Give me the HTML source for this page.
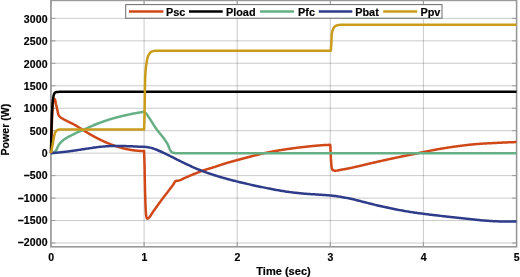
<!DOCTYPE html>
<html><head><meta charset="utf-8"><style>
html,body{margin:0;padding:0;background:#fff;}
body{width:520px;height:277px;overflow:hidden;}
svg{display:block;will-change:transform;}
text{font-family:"Liberation Sans",sans-serif;font-weight:bold;font-size:10.6px;fill:#000;stroke:#000;stroke-width:0.18px;}
</style></head><body>
<svg width="520" height="277" viewBox="0 0 520 277">
<rect x="0" y="0" width="520" height="277" fill="#fff"/>
<g stroke="#262626" stroke-opacity="0.24" stroke-width="1" fill="none">
<line x1="51.00" y1="0.40" x2="51.00" y2="246.80"/>
<line x1="144.10" y1="0.40" x2="144.10" y2="246.80"/>
<line x1="237.20" y1="0.40" x2="237.20" y2="246.80"/>
<line x1="330.30" y1="0.40" x2="330.30" y2="246.80"/>
<line x1="423.40" y1="0.40" x2="423.40" y2="246.80"/>
<line x1="516.50" y1="0.40" x2="516.50" y2="246.80"/>
<line x1="50.90" y1="18.36" x2="516.60" y2="18.36"/>
<line x1="50.90" y1="40.83" x2="516.60" y2="40.83"/>
<line x1="50.90" y1="63.29" x2="516.60" y2="63.29"/>
<line x1="50.90" y1="85.76" x2="516.60" y2="85.76"/>
<line x1="50.90" y1="108.22" x2="516.60" y2="108.22"/>
<line x1="50.90" y1="130.69" x2="516.60" y2="130.69"/>
<line x1="50.90" y1="153.15" x2="516.60" y2="153.15"/>
<line x1="50.90" y1="175.62" x2="516.60" y2="175.62"/>
<line x1="50.90" y1="198.08" x2="516.60" y2="198.08"/>
<line x1="50.90" y1="220.55" x2="516.60" y2="220.55"/>
<line x1="50.90" y1="243.01" x2="516.60" y2="243.01"/>
</g>
<g stroke="#999999" stroke-width="1" fill="none">
<line x1="51.00" y1="246.80" x2="51.00" y2="242.30"/>
<line x1="51.00" y1="0.40" x2="51.00" y2="4.90"/>
<line x1="144.10" y1="246.80" x2="144.10" y2="242.30"/>
<line x1="144.10" y1="0.40" x2="144.10" y2="4.90"/>
<line x1="237.20" y1="246.80" x2="237.20" y2="242.30"/>
<line x1="237.20" y1="0.40" x2="237.20" y2="4.90"/>
<line x1="330.30" y1="246.80" x2="330.30" y2="242.30"/>
<line x1="330.30" y1="0.40" x2="330.30" y2="4.90"/>
<line x1="423.40" y1="246.80" x2="423.40" y2="242.30"/>
<line x1="423.40" y1="0.40" x2="423.40" y2="4.90"/>
<line x1="516.50" y1="246.80" x2="516.50" y2="242.30"/>
<line x1="516.50" y1="0.40" x2="516.50" y2="4.90"/>
<line x1="50.90" y1="18.36" x2="55.40" y2="18.36"/>
<line x1="516.60" y1="18.36" x2="512.10" y2="18.36"/>
<line x1="50.90" y1="40.83" x2="55.40" y2="40.83"/>
<line x1="516.60" y1="40.83" x2="512.10" y2="40.83"/>
<line x1="50.90" y1="63.29" x2="55.40" y2="63.29"/>
<line x1="516.60" y1="63.29" x2="512.10" y2="63.29"/>
<line x1="50.90" y1="85.76" x2="55.40" y2="85.76"/>
<line x1="516.60" y1="85.76" x2="512.10" y2="85.76"/>
<line x1="50.90" y1="108.22" x2="55.40" y2="108.22"/>
<line x1="516.60" y1="108.22" x2="512.10" y2="108.22"/>
<line x1="50.90" y1="130.69" x2="55.40" y2="130.69"/>
<line x1="516.60" y1="130.69" x2="512.10" y2="130.69"/>
<line x1="50.90" y1="153.15" x2="55.40" y2="153.15"/>
<line x1="516.60" y1="153.15" x2="512.10" y2="153.15"/>
<line x1="50.90" y1="175.62" x2="55.40" y2="175.62"/>
<line x1="516.60" y1="175.62" x2="512.10" y2="175.62"/>
<line x1="50.90" y1="198.08" x2="55.40" y2="198.08"/>
<line x1="516.60" y1="198.08" x2="512.10" y2="198.08"/>
<line x1="50.90" y1="220.55" x2="55.40" y2="220.55"/>
<line x1="516.60" y1="220.55" x2="512.10" y2="220.55"/>
<line x1="50.90" y1="243.01" x2="55.40" y2="243.01"/>
<line x1="516.60" y1="243.01" x2="512.10" y2="243.01"/>
</g>
<rect x="50.9" y="0.4" width="465.70000000000005" height="246.4" fill="none" stroke="#999999" stroke-width="1.6"/>
<g fill="none" stroke-width="2.5" stroke-linejoin="round" stroke-linecap="butt">
<path d="M51.00,153.15 L51.37,139.07 L51.75,127.04 L52.12,116.49 L52.49,109.60 L52.87,104.31 L53.24,100.97 L53.61,99.69 L53.99,98.89 L54.36,98.72 L54.73,99.15 L55.10,99.93 L55.48,101.30 L55.85,103.40 L56.22,105.12 L56.60,106.71 L56.97,108.29 L57.34,109.92 L57.72,111.85 L58.09,113.75 L58.46,114.73 L58.84,115.44 L59.21,116.00 L59.58,116.46 L59.96,116.85 L60.33,117.19 L60.70,117.49 L61.07,117.76 L61.45,118.01 L61.82,118.23 L62.19,118.45 L62.57,118.66 L62.94,118.88 L63.31,119.10 L63.69,119.31 L64.06,119.52 L64.43,119.72 L64.81,119.91 L65.18,120.10 L65.55,120.29 L65.93,120.48 L66.30,120.67 L66.67,120.86 L67.05,121.05 L67.42,121.24 L67.79,121.43 L68.16,121.62 L68.54,121.80 L68.91,121.98 L69.28,122.16 L69.66,122.34 L70.03,122.52 L70.40,122.70 L70.78,122.88 L71.15,123.06 L71.52,123.24 L71.90,123.43 L72.27,123.61 L72.64,123.80 L73.02,123.98 L73.39,124.17 L73.76,124.37 L74.14,124.56 L74.51,124.77 L74.88,124.97 L75.25,125.18 L75.63,125.39 L76.00,125.61 L76.37,125.83 L76.75,126.06 L77.12,126.29 L77.49,126.52 L77.87,126.75 L78.24,126.99 L78.61,127.22 L78.99,127.46 L79.36,127.70 L79.73,127.94 L80.11,128.18 L80.48,128.42 L80.85,128.66 L81.22,128.90 L81.60,129.13 L81.97,129.37 L82.34,129.60 L82.72,129.82 L83.09,130.05 L83.46,130.28 L83.84,130.50 L84.21,130.73 L84.58,130.96 L84.96,131.19 L85.33,131.41 L85.70,131.64 L86.08,131.87 L86.45,132.10 L86.82,132.32 L87.20,132.55 L87.57,132.78 L87.94,133.00 L88.31,133.23 L88.69,133.45 L89.06,133.68 L89.43,133.90 L89.81,134.12 L90.18,134.34 L90.55,134.56 L90.93,134.78 L91.30,134.99 L91.67,135.21 L92.05,135.42 L92.42,135.63 L92.79,135.84 L93.17,136.05 L93.54,136.26 L93.91,136.46 L94.29,136.66 L94.66,136.86 L95.03,137.06 L95.40,137.26 L95.78,137.45 L96.15,137.65 L96.52,137.84 L96.90,138.04 L97.27,138.23 L97.64,138.42 L98.02,138.61 L98.39,138.80 L98.76,138.99 L99.14,139.17 L99.51,139.36 L99.88,139.54 L100.26,139.73 L100.63,139.91 L101.00,140.09 L101.37,140.27 L101.75,140.45 L102.12,140.63 L102.49,140.80 L102.87,140.98 L103.24,141.15 L103.61,141.32 L103.99,141.49 L104.36,141.66 L104.73,141.83 L105.11,141.99 L105.48,142.16 L105.85,142.32 L106.23,142.48 L106.60,142.64 L106.97,142.80 L107.35,142.95 L107.72,143.11 L108.09,143.26 L108.46,143.41 L108.84,143.56 L109.21,143.71 L109.58,143.86 L109.96,144.01 L110.33,144.15 L110.70,144.30 L111.08,144.44 L111.45,144.58 L111.82,144.72 L112.20,144.86 L112.57,144.99 L112.94,145.12 L113.32,145.26 L113.69,145.39 L114.06,145.51 L114.44,145.64 L114.81,145.76 L115.18,145.88 L115.55,146.01 L115.93,146.13 L116.30,146.25 L116.67,146.37 L117.05,146.50 L117.42,146.62 L117.79,146.74 L118.17,146.85 L118.54,146.97 L118.91,147.09 L119.29,147.20 L119.66,147.32 L120.03,147.43 L120.41,147.54 L120.78,147.65 L121.15,147.76 L121.52,147.87 L121.90,147.98 L122.27,148.08 L122.64,148.18 L123.02,148.28 L123.39,148.38 L123.76,148.48 L124.14,148.57 L124.51,148.66 L124.88,148.75 L125.26,148.84 L125.63,148.92 L126.00,149.00 L126.38,149.08 L126.75,149.16 L127.12,149.23 L127.50,149.31 L127.87,149.38 L128.24,149.45 L128.61,149.52 L128.99,149.59 L129.36,149.66 L129.73,149.72 L130.11,149.79 L130.48,149.85 L130.85,149.91 L131.23,149.97 L131.60,150.03 L131.97,150.09 L132.35,150.14 L132.72,150.20 L133.09,150.25 L133.47,150.30 L133.84,150.34 L134.21,150.39 L134.59,150.43 L134.96,150.47 L135.33,150.51 L135.70,150.55 L136.08,150.59 L136.45,150.63 L136.82,150.67 L137.20,150.71 L137.57,150.74 L137.94,150.78 L138.32,150.81 L138.69,150.84 L139.06,150.87 L139.44,150.90 L139.81,150.93 L140.18,150.96 L140.56,150.99 L140.93,151.01 L141.30,151.03 L141.67,151.05 L142.05,151.07 L142.42,151.08 L142.79,151.10 L143.17,151.11 L143.54,151.12 L143.91,151.13 L144.10,151.04 L144.57,165.99 L145.03,190.90 L145.50,205.41 L145.96,214.07 L146.43,216.82 L146.90,218.24 L147.36,218.75 L147.83,218.60 L148.30,218.25 L148.76,217.84 L149.23,217.40 L149.69,216.86 L150.16,216.23 L150.63,215.55 L151.09,214.83 L151.56,214.08 L152.03,213.33 L152.49,212.59 L152.96,211.90 L153.42,211.24 L153.89,210.58 L154.36,209.93 L154.82,209.27 L155.29,208.62 L155.75,207.97 L156.22,207.31 L156.69,206.66 L157.15,206.01 L157.62,205.36 L158.09,204.71 L158.55,204.07 L159.02,203.42 L159.48,202.78 L159.95,202.14 L160.42,201.51 L160.88,200.88 L161.35,200.25 L161.82,199.62 L162.28,199.00 L162.75,198.39 L163.21,197.77 L163.68,197.17 L164.15,196.56 L164.61,195.96 L165.08,195.35 L165.55,194.75 L166.01,194.15 L166.48,193.54 L166.94,192.94 L167.41,192.33 L167.88,191.73 L168.34,191.11 L168.81,190.50 L169.27,189.88 L169.74,189.25 L170.21,188.63 L170.67,188.01 L171.14,187.39 L171.61,186.77 L172.07,186.14 L172.54,185.50 L173.00,184.85 L173.47,184.18 L173.94,183.49 L174.40,182.63 L174.87,181.79 L175.34,181.26 L175.80,181.05 L176.27,180.91 L176.73,180.81 L177.20,180.74 L177.67,180.69 L178.13,180.65 L178.60,180.58 L179.06,180.47 L179.53,180.33 L180.00,180.17 L180.46,179.98 L180.93,179.77 L181.40,179.55 L181.86,179.32 L182.33,179.08 L182.79,178.85 L183.26,178.62 L183.73,178.40 L184.19,178.20 L184.66,178.00 L185.13,177.79 L185.59,177.59 L186.06,177.39 L186.52,177.18 L186.99,176.97 L187.46,176.77 L187.92,176.56 L188.39,176.36 L188.86,176.16 L189.32,175.95 L189.79,175.75 L190.25,175.56 L190.72,175.36 L191.19,175.17 L191.65,174.98 L192.12,174.79 L192.58,174.60 L193.05,174.41 L193.52,174.22 L193.98,174.03 L194.45,173.85 L194.92,173.66 L195.38,173.48 L195.85,173.29 L196.31,173.11 L196.78,172.93 L197.25,172.75 L197.71,172.57 L198.18,172.38 L198.65,172.20 L199.11,172.02 L199.58,171.84 L200.04,171.66 L200.51,171.48 L200.98,171.30 L201.44,171.12 L201.91,170.95 L202.38,170.78 L202.84,170.62 L203.31,170.46 L203.77,170.30 L204.24,170.14 L204.71,169.99 L205.17,169.84 L205.64,169.69 L206.10,169.55 L206.57,169.40 L207.04,169.26 L207.50,169.12 L207.97,168.98 L208.44,168.83 L208.90,168.69 L209.37,168.55 L209.83,168.41 L210.30,168.27 L210.77,168.13 L211.23,167.99 L211.70,167.85 L212.17,167.71 L212.63,167.56 L213.10,167.42 L213.56,167.27 L214.03,167.12 L214.50,166.97 L214.96,166.82 L215.43,166.67 L215.89,166.51 L216.36,166.36 L216.83,166.20 L217.29,166.05 L217.76,165.89 L218.23,165.74 L218.69,165.58 L219.16,165.42 L219.62,165.27 L220.09,165.11 L220.56,164.96 L221.02,164.80 L221.49,164.65 L221.96,164.49 L222.42,164.34 L222.89,164.19 L223.35,164.04 L223.82,163.89 L224.29,163.74 L224.75,163.59 L225.22,163.45 L225.68,163.30 L226.15,163.16 L226.62,163.02 L227.08,162.88 L227.55,162.74 L228.02,162.61 L228.48,162.47 L228.95,162.34 L229.41,162.21 L229.88,162.08 L230.35,161.95 L230.81,161.82 L231.28,161.69 L231.75,161.57 L232.21,161.44 L232.68,161.32 L233.14,161.19 L233.61,161.07 L234.08,160.94 L234.54,160.82 L235.01,160.69 L235.48,160.57 L235.94,160.44 L236.41,160.32 L236.87,160.19 L237.34,160.07 L237.81,159.94 L238.27,159.81 L238.74,159.69 L239.20,159.56 L239.67,159.44 L240.14,159.31 L240.60,159.19 L241.07,159.06 L241.54,158.93 L242.00,158.81 L242.47,158.68 L242.93,158.56 L243.40,158.44 L243.87,158.31 L244.33,158.19 L244.80,158.06 L245.27,157.94 L245.73,157.82 L246.20,157.69 L246.66,157.57 L247.13,157.45 L247.60,157.32 L248.06,157.20 L248.53,157.08 L249.00,156.96 L249.46,156.83 L249.93,156.71 L250.39,156.59 L250.86,156.47 L251.33,156.35 L251.79,156.22 L252.26,156.10 L252.72,155.98 L253.19,155.86 L253.66,155.74 L254.12,155.62 L254.59,155.51 L255.06,155.39 L255.52,155.27 L255.99,155.16 L256.45,155.04 L256.92,154.93 L257.39,154.81 L257.85,154.70 L258.32,154.58 L258.79,154.47 L259.25,154.35 L259.72,154.24 L260.18,154.13 L260.65,154.01 L261.12,153.90 L261.58,153.79 L262.05,153.68 L262.51,153.57 L262.98,153.46 L263.45,153.36 L263.91,153.25 L264.38,153.15 L264.85,153.05 L265.31,152.95 L265.78,152.85 L266.24,152.75 L266.71,152.66 L267.18,152.56 L267.64,152.47 L268.11,152.38 L268.58,152.28 L269.04,152.19 L269.51,152.10 L269.97,152.01 L270.44,151.92 L270.91,151.83 L271.37,151.74 L271.84,151.65 L272.31,151.57 L272.77,151.48 L273.24,151.40 L273.70,151.31 L274.17,151.23 L274.64,151.14 L275.10,151.06 L275.57,150.98 L276.03,150.90 L276.50,150.81 L276.97,150.73 L277.43,150.65 L277.90,150.58 L278.37,150.50 L278.83,150.42 L279.30,150.34 L279.76,150.27 L280.23,150.19 L280.70,150.11 L281.16,150.04 L281.63,149.97 L282.10,149.89 L282.56,149.82 L283.03,149.75 L283.49,149.68 L283.96,149.60 L284.43,149.53 L284.89,149.46 L285.36,149.39 L285.82,149.32 L286.29,149.25 L286.76,149.18 L287.22,149.11 L287.69,149.04 L288.16,148.97 L288.62,148.91 L289.09,148.84 L289.55,148.77 L290.02,148.70 L290.49,148.64 L290.95,148.57 L291.42,148.51 L291.89,148.44 L292.35,148.38 L292.82,148.31 L293.28,148.25 L293.75,148.18 L294.22,148.12 L294.68,148.06 L295.15,148.00 L295.62,147.94 L296.08,147.87 L296.55,147.81 L297.01,147.76 L297.48,147.70 L297.95,147.64 L298.41,147.58 L298.88,147.52 L299.34,147.47 L299.81,147.41 L300.28,147.36 L300.74,147.30 L301.21,147.25 L301.68,147.20 L302.14,147.14 L302.61,147.09 L303.07,147.04 L303.54,146.99 L304.01,146.94 L304.47,146.90 L304.94,146.85 L305.41,146.80 L305.87,146.75 L306.34,146.70 L306.80,146.65 L307.27,146.60 L307.74,146.55 L308.20,146.50 L308.67,146.45 L309.13,146.40 L309.60,146.35 L310.07,146.31 L310.53,146.26 L311.00,146.21 L311.47,146.16 L311.93,146.11 L312.40,146.07 L312.86,146.02 L313.33,145.97 L313.80,145.93 L314.26,145.88 L314.73,145.84 L315.20,145.79 L315.66,145.75 L316.13,145.70 L316.59,145.66 L317.06,145.62 L317.53,145.58 L317.99,145.54 L318.46,145.50 L318.92,145.46 L319.39,145.42 L319.86,145.38 L320.32,145.34 L320.79,145.31 L321.26,145.27 L321.72,145.24 L322.19,145.21 L322.65,145.17 L323.12,145.14 L323.59,145.11 L324.05,145.09 L324.52,145.06 L324.99,145.03 L325.45,145.01 L325.92,144.98 L326.38,144.96 L326.85,144.94 L327.32,144.92 L327.78,144.90 L328.25,144.89 L328.72,144.87 L329.18,144.86 L329.65,144.85 L330.11,144.84 L330.30,144.88 L330.92,158.63 L331.55,167.25 L332.17,169.37 L332.79,170.08 L333.41,170.36 L334.04,170.56 L334.66,170.67 L335.28,170.72 L335.90,170.70 L336.53,170.63 L337.15,170.53 L337.77,170.41 L338.40,170.28 L339.02,170.15 L339.64,170.04 L340.26,169.93 L340.89,169.82 L341.51,169.72 L342.13,169.60 L342.75,169.49 L343.38,169.38 L344.00,169.26 L344.62,169.15 L345.25,169.03 L345.87,168.91 L346.49,168.79 L347.11,168.67 L347.74,168.55 L348.36,168.43 L348.98,168.30 L349.61,168.18 L350.23,168.05 L350.85,167.92 L351.47,167.80 L352.10,167.66 L352.72,167.53 L353.34,167.40 L353.96,167.26 L354.59,167.12 L355.21,166.98 L355.83,166.84 L356.46,166.70 L357.08,166.56 L357.70,166.41 L358.32,166.27 L358.95,166.12 L359.57,165.97 L360.19,165.83 L360.81,165.68 L361.44,165.53 L362.06,165.38 L362.68,165.23 L363.31,165.08 L363.93,164.93 L364.55,164.78 L365.17,164.63 L365.80,164.48 L366.42,164.33 L367.04,164.18 L367.66,164.03 L368.29,163.88 L368.91,163.73 L369.53,163.58 L370.16,163.44 L370.78,163.29 L371.40,163.15 L372.02,163.00 L372.65,162.86 L373.27,162.72 L373.89,162.58 L374.51,162.44 L375.14,162.30 L375.76,162.16 L376.38,162.02 L377.01,161.88 L377.63,161.73 L378.25,161.59 L378.87,161.45 L379.50,161.31 L380.12,161.17 L380.74,161.03 L381.36,160.89 L381.99,160.76 L382.61,160.62 L383.23,160.48 L383.86,160.34 L384.48,160.20 L385.10,160.06 L385.72,159.92 L386.35,159.79 L386.97,159.65 L387.59,159.51 L388.22,159.38 L388.84,159.24 L389.46,159.10 L390.08,158.97 L390.71,158.83 L391.33,158.70 L391.95,158.56 L392.57,158.43 L393.20,158.30 L393.82,158.16 L394.44,158.03 L395.07,157.90 L395.69,157.76 L396.31,157.63 L396.93,157.50 L397.56,157.37 L398.18,157.24 L398.80,157.11 L399.42,156.98 L400.05,156.85 L400.67,156.72 L401.29,156.59 L401.92,156.46 L402.54,156.33 L403.16,156.20 L403.78,156.08 L404.41,155.95 L405.03,155.82 L405.65,155.69 L406.27,155.56 L406.90,155.44 L407.52,155.31 L408.14,155.18 L408.77,155.05 L409.39,154.93 L410.01,154.80 L410.63,154.67 L411.26,154.54 L411.88,154.42 L412.50,154.29 L413.12,154.16 L413.75,154.03 L414.37,153.91 L414.99,153.78 L415.62,153.65 L416.24,153.52 L416.86,153.40 L417.48,153.27 L418.11,153.14 L418.73,153.01 L419.35,152.88 L419.97,152.76 L420.60,152.63 L421.22,152.50 L421.84,152.38 L422.47,152.25 L423.09,152.13 L423.71,152.00 L424.33,151.88 L424.96,151.76 L425.58,151.63 L426.20,151.51 L426.83,151.38 L427.45,151.26 L428.07,151.13 L428.69,151.01 L429.32,150.88 L429.94,150.76 L430.56,150.64 L431.18,150.51 L431.81,150.39 L432.43,150.27 L433.05,150.15 L433.68,150.03 L434.30,149.91 L434.92,149.79 L435.54,149.67 L436.17,149.56 L436.79,149.45 L437.41,149.33 L438.03,149.22 L438.66,149.11 L439.28,149.01 L439.90,148.90 L440.53,148.80 L441.15,148.69 L441.77,148.59 L442.39,148.48 L443.02,148.38 L443.64,148.28 L444.26,148.18 L444.88,148.08 L445.51,147.98 L446.13,147.88 L446.75,147.78 L447.38,147.68 L448.00,147.59 L448.62,147.49 L449.24,147.39 L449.87,147.30 L450.49,147.21 L451.11,147.12 L451.73,147.02 L452.36,146.93 L452.98,146.84 L453.60,146.76 L454.23,146.67 L454.85,146.58 L455.47,146.50 L456.09,146.41 L456.72,146.33 L457.34,146.25 L457.96,146.16 L458.58,146.08 L459.21,146.01 L459.83,145.93 L460.45,145.85 L461.08,145.77 L461.70,145.69 L462.32,145.61 L462.94,145.53 L463.57,145.46 L464.19,145.38 L464.81,145.30 L465.44,145.23 L466.06,145.15 L466.68,145.08 L467.30,145.01 L467.93,144.94 L468.55,144.86 L469.17,144.80 L469.79,144.73 L470.42,144.66 L471.04,144.59 L471.66,144.53 L472.29,144.46 L472.91,144.40 L473.53,144.34 L474.15,144.28 L474.78,144.23 L475.40,144.17 L476.02,144.12 L476.64,144.07 L477.27,144.02 L477.89,143.97 L478.51,143.92 L479.14,143.88 L479.76,143.83 L480.38,143.79 L481.00,143.74 L481.63,143.70 L482.25,143.66 L482.87,143.62 L483.49,143.58 L484.12,143.54 L484.74,143.51 L485.36,143.47 L485.99,143.43 L486.61,143.40 L487.23,143.36 L487.85,143.33 L488.48,143.29 L489.10,143.26 L489.72,143.22 L490.34,143.19 L490.97,143.16 L491.59,143.13 L492.21,143.09 L492.84,143.06 L493.46,143.03 L494.08,143.00 L494.70,142.97 L495.33,142.94 L495.95,142.91 L496.57,142.88 L497.19,142.85 L497.82,142.82 L498.44,142.79 L499.06,142.76 L499.69,142.73 L500.31,142.70 L500.93,142.67 L501.55,142.64 L502.18,142.62 L502.80,142.59 L503.42,142.56 L504.05,142.53 L504.67,142.51 L505.29,142.48 L505.91,142.45 L506.54,142.43 L507.16,142.40 L507.78,142.37 L508.40,142.35 L509.03,142.32 L509.65,142.30 L510.27,142.28 L510.90,142.25 L511.52,142.23 L512.14,142.20 L512.76,142.18 L513.39,142.16 L514.01,142.14 L514.63,142.12 L515.25,142.09 L515.88,142.07 L516.50,142.05" stroke="#d04818"/>
<path d="M51.00,153.15 L51.13,145.38 L51.25,138.59 L51.38,132.67 L51.50,127.49 L51.63,122.98 L51.76,119.03 L51.88,115.59 L52.01,112.58 L52.14,109.95 L52.26,107.66 L52.39,105.66 L52.51,103.91 L52.64,102.38 L52.77,101.05 L52.89,99.88 L53.02,98.87 L53.15,97.98 L53.27,97.20 L53.40,96.53 L53.52,95.94 L53.65,95.42 L53.78,94.97 L53.90,94.58 L54.03,94.23 L54.16,93.93 L54.28,93.67 L54.41,93.44 L54.53,93.24 L54.66,93.07 L54.79,92.91 L54.91,92.78 L55.04,92.67 L55.17,92.56 L55.29,92.48 L55.42,92.40 L55.54,92.33 L55.67,92.27 L55.80,92.22 L55.92,92.18 L56.05,92.14 L56.18,92.10 L56.30,92.07 L56.43,92.05 L56.55,92.02 L56.68,92.00 L56.81,91.99 L56.93,91.97 L57.06,91.96 L57.19,91.95 L57.31,91.94 L57.44,91.93 L57.56,91.92 L57.69,91.91 L57.82,91.91 L57.94,91.90 L58.07,91.90 L58.20,91.89 L58.32,91.89 L58.45,91.89 L59.38,91.87 L83.44,91.87 L107.50,91.87 L131.56,91.87 L155.62,91.87 L179.67,91.87 L203.73,91.87 L227.79,91.87 L251.85,91.87 L275.91,91.87 L299.97,91.87 L324.03,91.87 L348.09,91.87 L372.15,91.87 L396.20,91.87 L420.26,91.87 L444.32,91.87 L468.38,91.87 L492.44,91.87 L516.50,91.87" stroke="#000000"/>
<path d="M51.00,153.15 L51.62,153.10 L52.25,152.95 L52.87,152.73 L53.50,152.47 L54.12,152.17 L54.75,151.72 L55.37,151.12 L56.00,150.40 L56.62,149.48 L57.25,148.04 L57.87,146.50 L58.50,145.36 L59.12,144.43 L59.75,143.60 L60.37,142.86 L61.00,142.20 L61.62,141.60 L62.25,141.03 L62.87,140.50 L63.50,140.00 L64.12,139.53 L64.75,139.09 L65.37,138.66 L66.00,138.25 L66.62,137.86 L67.25,137.48 L67.87,137.13 L68.50,136.79 L69.12,136.46 L69.74,136.14 L70.37,135.83 L70.99,135.53 L71.62,135.22 L72.24,134.92 L72.87,134.61 L73.49,134.29 L74.12,133.97 L74.74,133.65 L75.37,133.32 L75.99,133.00 L76.62,132.68 L77.24,132.37 L77.87,132.07 L78.49,131.78 L79.12,131.50 L79.74,131.24 L80.37,131.00 L80.99,130.76 L81.62,130.53 L82.24,130.31 L82.87,130.07 L83.49,129.83 L84.12,129.58 L84.74,129.31 L85.37,129.02 L85.99,128.72 L86.62,128.41 L87.24,128.09 L87.87,127.79 L88.49,127.49 L89.11,127.20 L89.74,126.92 L90.36,126.64 L90.99,126.36 L91.61,126.09 L92.24,125.82 L92.86,125.55 L93.49,125.28 L94.11,125.02 L94.74,124.76 L95.36,124.51 L95.99,124.26 L96.61,124.01 L97.24,123.76 L97.86,123.52 L98.49,123.28 L99.11,123.04 L99.74,122.81 L100.36,122.58 L100.99,122.35 L101.61,122.12 L102.24,121.90 L102.86,121.68 L103.49,121.46 L104.11,121.24 L104.74,121.03 L105.36,120.82 L105.99,120.61 L106.61,120.41 L107.23,120.21 L107.86,120.01 L108.48,119.81 L109.11,119.62 L109.73,119.42 L110.36,119.23 L110.98,119.04 L111.61,118.86 L112.23,118.67 L112.86,118.49 L113.48,118.31 L114.11,118.14 L114.73,117.96 L115.36,117.79 L115.98,117.62 L116.61,117.45 L117.23,117.28 L117.86,117.12 L118.48,116.96 L119.11,116.80 L119.73,116.64 L120.36,116.48 L120.98,116.33 L121.61,116.17 L122.23,116.02 L122.86,115.87 L123.48,115.73 L124.11,115.58 L124.73,115.44 L125.36,115.30 L125.98,115.16 L126.60,115.02 L127.23,114.88 L127.85,114.74 L128.48,114.61 L129.10,114.48 L129.73,114.35 L130.35,114.22 L130.98,114.09 L131.60,113.97 L132.23,113.84 L132.85,113.72 L133.48,113.60 L134.10,113.48 L134.73,113.36 L135.35,113.24 L135.98,113.13 L136.60,113.01 L137.23,112.90 L137.85,112.79 L138.48,112.68 L139.10,112.57 L139.73,112.46 L140.35,112.36 L140.98,112.25 L141.60,112.15 L142.23,112.05 L142.85,111.95 L143.48,111.85 L144.10,111.75 L144.70,112.11 L145.10,112.49 L145.50,112.90 L145.91,113.34 L146.31,113.82 L146.71,114.32 L147.11,114.83 L147.51,115.37 L147.91,115.93 L148.31,116.50 L148.71,117.09 L149.12,117.69 L149.52,118.30 L149.92,118.92 L150.32,119.55 L150.72,120.19 L151.12,120.83 L151.52,121.47 L151.92,122.12 L152.33,122.76 L152.73,123.41 L153.13,124.05 L153.53,124.68 L153.93,125.31 L154.33,125.94 L154.73,126.55 L155.13,127.15 L155.54,127.74 L155.94,128.31 L156.34,128.87 L156.74,129.42 L157.14,129.95 L157.54,130.48 L157.94,131.00 L158.34,131.51 L158.75,132.02 L159.15,132.52 L159.55,133.01 L159.95,133.51 L160.35,134.00 L160.75,134.50 L161.15,134.99 L161.55,135.49 L161.96,135.99 L162.36,136.50 L162.76,137.01 L163.16,137.53 L163.56,138.06 L163.96,138.60 L164.36,139.15 L164.76,139.72 L165.17,140.29 L165.57,140.88 L165.97,141.49 L166.37,142.11 L166.77,142.75 L167.17,143.42 L167.57,144.14 L167.97,144.91 L168.38,145.75 L168.78,146.74 L169.18,147.86 L169.58,148.92 L169.98,149.75 L170.38,150.49 L170.78,151.12 L171.18,151.59 L171.59,151.93 L171.99,152.22 L172.39,152.46 L172.79,152.64 L173.19,152.75 L173.59,152.84 L173.99,152.93 L174.39,153.00 L174.80,153.06 L175.20,153.11 L175.60,153.14 L176.00,153.15 L516.50,153.15" stroke="#66af85"/>
<path d="M51.00,153.15 L52.17,153.06 L53.33,152.97 L54.50,152.88 L55.67,152.78 L56.83,152.67 L58.00,152.56 L59.17,152.45 L60.33,152.34 L61.50,152.22 L62.67,152.10 L63.83,151.97 L65.00,151.83 L66.17,151.69 L67.33,151.55 L68.50,151.41 L69.67,151.26 L70.83,151.10 L72.00,150.94 L73.17,150.78 L74.33,150.60 L75.50,150.43 L76.67,150.25 L77.83,150.07 L79.00,149.88 L80.17,149.70 L81.33,149.52 L82.50,149.33 L83.67,149.15 L84.83,148.98 L86.00,148.80 L87.17,148.63 L88.33,148.46 L89.50,148.30 L90.67,148.13 L91.83,147.95 L93.00,147.78 L94.17,147.61 L95.33,147.44 L96.50,147.28 L97.67,147.12 L98.83,146.98 L100.00,146.85 L101.17,146.73 L102.33,146.62 L103.50,146.53 L104.67,146.43 L105.83,146.33 L107.00,146.24 L108.17,146.16 L109.33,146.09 L110.50,146.03 L111.67,145.99 L112.83,145.96 L114.00,145.96 L115.17,145.97 L116.33,145.97 L117.50,145.98 L118.67,145.99 L119.83,146.01 L121.00,146.02 L122.17,146.04 L123.33,146.06 L124.50,146.08 L125.67,146.10 L126.83,146.13 L128.00,146.16 L129.17,146.20 L130.33,146.25 L131.50,146.30 L132.67,146.35 L133.83,146.41 L135.00,146.47 L136.17,146.52 L137.33,146.58 L138.50,146.64 L139.67,146.69 L140.83,146.73 L142.00,146.77 L143.17,146.81 L144.33,146.86 L145.50,146.94 L146.67,147.06 L147.83,147.22 L149.00,147.41 L150.17,147.63 L151.33,147.90 L152.50,148.24 L153.67,148.63 L154.83,149.06 L156.00,149.52 L157.17,150.01 L158.33,150.50 L159.50,150.99 L160.67,151.48 L161.83,151.99 L163.00,152.53 L164.17,153.09 L165.33,153.67 L166.50,154.25 L167.67,154.84 L168.83,155.42 L170.00,156.00 L171.17,156.58 L172.33,157.16 L173.50,157.74 L174.67,158.33 L175.83,158.92 L177.00,159.51 L178.17,160.09 L179.33,160.67 L180.50,161.25 L181.67,161.82 L182.83,162.39 L184.00,162.96 L185.17,163.53 L186.33,164.09 L187.50,164.64 L188.67,165.19 L189.83,165.72 L191.00,166.25 L192.17,166.78 L193.33,167.30 L194.50,167.81 L195.67,168.32 L196.83,168.81 L198.00,169.30 L199.17,169.77 L200.33,170.23 L201.50,170.68 L202.67,171.12 L203.83,171.56 L205.00,171.99 L206.17,172.41 L207.33,172.83 L208.50,173.24 L209.67,173.64 L210.83,174.04 L212.00,174.43 L213.17,174.81 L214.33,175.19 L215.50,175.56 L216.67,175.92 L217.83,176.28 L219.00,176.63 L220.17,176.97 L221.33,177.31 L222.50,177.65 L223.67,177.98 L224.83,178.30 L226.00,178.62 L227.17,178.94 L228.33,179.26 L229.50,179.57 L230.67,179.88 L231.83,180.18 L233.00,180.48 L234.17,180.78 L235.33,181.07 L236.50,181.36 L237.67,181.65 L238.83,181.94 L240.00,182.22 L241.17,182.50 L242.33,182.77 L243.50,183.05 L244.67,183.32 L245.83,183.59 L247.00,183.86 L248.17,184.13 L249.33,184.39 L250.50,184.65 L251.67,184.91 L252.83,185.17 L254.00,185.42 L255.17,185.67 L256.33,185.92 L257.50,186.17 L258.67,186.42 L259.83,186.67 L261.00,186.91 L262.17,187.15 L263.33,187.40 L264.50,187.64 L265.67,187.88 L266.83,188.12 L268.00,188.36 L269.17,188.59 L270.33,188.83 L271.50,189.05 L272.67,189.27 L273.83,189.49 L275.00,189.70 L276.17,189.91 L277.33,190.11 L278.50,190.32 L279.67,190.52 L280.83,190.72 L282.00,190.91 L283.17,191.10 L284.33,191.29 L285.50,191.47 L286.67,191.64 L287.83,191.81 L289.00,191.97 L290.17,192.12 L291.33,192.27 L292.50,192.41 L293.67,192.55 L294.83,192.69 L296.00,192.82 L297.17,192.95 L298.33,193.07 L299.50,193.19 L300.67,193.31 L301.83,193.42 L303.00,193.53 L304.17,193.63 L305.33,193.73 L306.50,193.82 L307.67,193.90 L308.83,193.98 L310.00,194.06 L311.17,194.14 L312.33,194.21 L313.50,194.28 L314.67,194.35 L315.83,194.42 L317.00,194.50 L318.17,194.57 L319.33,194.65 L320.50,194.74 L321.67,194.82 L322.83,194.90 L324.00,194.98 L325.17,195.06 L326.33,195.15 L327.50,195.24 L328.67,195.33 L329.83,195.44 L331.00,195.55 L332.17,195.67 L333.33,195.81 L334.50,195.96 L335.67,196.11 L336.83,196.28 L338.00,196.45 L339.17,196.63 L340.33,196.83 L341.50,197.04 L342.67,197.24 L343.83,197.45 L345.00,197.65 L346.17,197.86 L347.33,198.08 L348.50,198.30 L349.67,198.53 L350.83,198.78 L352.00,199.04 L353.17,199.31 L354.33,199.58 L355.50,199.87 L356.67,200.17 L357.83,200.46 L359.00,200.76 L360.17,201.07 L361.33,201.37 L362.50,201.67 L363.67,201.97 L364.83,202.26 L366.00,202.55 L367.17,202.84 L368.33,203.13 L369.50,203.43 L370.67,203.72 L371.83,204.02 L373.00,204.31 L374.17,204.60 L375.33,204.89 L376.50,205.17 L377.67,205.45 L378.83,205.73 L380.00,206.00 L381.17,206.27 L382.33,206.53 L383.50,206.79 L384.67,207.05 L385.83,207.30 L387.00,207.56 L388.17,207.81 L389.33,208.05 L390.50,208.29 L391.67,208.53 L392.83,208.77 L394.00,209.00 L395.17,209.23 L396.33,209.46 L397.50,209.68 L398.67,209.91 L399.83,210.13 L401.00,210.35 L402.17,210.56 L403.33,210.77 L404.50,210.98 L405.67,211.18 L406.83,211.38 L408.00,211.58 L409.17,211.77 L410.33,211.95 L411.50,212.13 L412.67,212.31 L413.83,212.48 L415.00,212.65 L416.17,212.82 L417.33,212.98 L418.50,213.14 L419.67,213.30 L420.83,213.45 L422.00,213.61 L423.17,213.76 L424.33,213.91 L425.50,214.06 L426.67,214.21 L427.83,214.36 L429.00,214.50 L430.17,214.64 L431.33,214.78 L432.50,214.92 L433.67,215.06 L434.83,215.20 L436.00,215.33 L437.17,215.47 L438.33,215.61 L439.50,215.74 L440.67,215.88 L441.83,216.01 L443.00,216.15 L444.17,216.28 L445.33,216.42 L446.50,216.55 L447.67,216.68 L448.83,216.81 L450.00,216.94 L451.17,217.08 L452.33,217.21 L453.50,217.33 L454.67,217.46 L455.83,217.59 L457.00,217.72 L458.17,217.85 L459.33,217.97 L460.50,218.10 L461.67,218.22 L462.83,218.35 L464.00,218.47 L465.17,218.60 L466.33,218.72 L467.50,218.84 L468.67,218.96 L469.83,219.08 L471.00,219.20 L472.17,219.33 L473.33,219.46 L474.50,219.59 L475.67,219.71 L476.83,219.84 L478.00,219.97 L479.17,220.09 L480.33,220.20 L481.50,220.31 L482.67,220.42 L483.83,220.51 L485.00,220.60 L486.17,220.68 L487.33,220.76 L488.50,220.85 L489.67,220.93 L490.83,221.01 L492.00,221.08 L493.17,221.15 L494.33,221.21 L495.50,221.27 L496.67,221.32 L497.83,221.36 L499.00,221.38 L500.17,221.40 L501.33,221.41 L502.50,221.43 L503.67,221.44 L504.83,221.45 L506.00,221.46 L507.17,221.47 L508.33,221.47 L509.50,221.48 L510.67,221.49 L511.83,221.49 L513.00,221.49 L514.17,221.50 L515.33,221.50 L516.50,221.50" stroke="#2f3c8a"/>
<path d="M51.00,153.00 L51.28,151.58 L51.57,150.15 L51.85,148.74 L52.14,147.33 L52.42,145.87 L52.71,144.30 L52.99,142.67 L53.28,141.04 L53.56,139.35 L53.85,137.75 L54.13,136.33 L54.42,134.99 L54.70,133.89 L54.99,133.09 L55.27,132.42 L55.56,131.85 L55.84,131.40 L56.13,131.05 L56.41,130.75 L56.70,130.49 L56.98,130.27 L57.27,130.10 L57.55,129.98 L57.84,129.90 L58.12,129.82 L58.41,129.75 L58.70,129.70 L58.98,129.65 L59.27,129.62 L59.55,129.60 L59.84,129.58 L60.12,129.56 L60.41,129.54 L60.69,129.53 L60.98,129.52 L61.26,129.51 L61.55,129.50 L61.83,129.50 L62.11,129.50 L62.40,129.50 L62.69,129.50 L62.97,129.50 L63.25,129.50 L63.54,129.50 L63.82,129.50 L64.11,129.50 L64.39,129.50 L64.68,129.50 L64.97,129.50 L65.90,129.50 L74.59,129.50 L83.27,129.50 L91.96,129.50 L100.65,129.50 L109.34,129.50 L118.03,129.50 L126.72,129.50 L135.41,129.50 L144.10,129.52 L144.15,128.39 L144.33,122.46 L144.52,114.46 L144.71,104.28 L144.90,90.95 L145.09,80.21 L145.27,75.73 L145.46,72.59 L145.65,70.25 L145.84,68.29 L146.03,66.65 L146.21,65.24 L146.40,64.00 L146.59,62.82 L146.78,61.68 L146.97,60.58 L147.15,59.56 L147.34,58.64 L147.53,57.85 L147.72,57.21 L147.91,56.67 L148.09,56.17 L148.28,55.71 L148.47,55.29 L148.66,54.91 L148.85,54.56 L149.03,54.25 L149.22,53.96 L149.41,53.70 L149.60,53.45 L149.79,53.21 L149.97,52.98 L150.16,52.76 L150.35,52.55 L150.54,52.35 L150.73,52.17 L150.91,52.01 L151.10,51.87 L151.29,51.74 L151.48,51.64 L151.67,51.56 L151.85,51.49 L152.04,51.42 L152.23,51.35 L152.42,51.29 L152.61,51.23 L152.79,51.18 L152.98,51.12 L153.17,51.08 L153.36,51.03 L153.54,51.00 L153.73,50.96 L153.92,50.93 L154.11,50.91 L154.30,50.89 L154.48,50.88 L154.67,50.87 L154.86,50.86 L155.05,50.86 L155.24,50.85 L155.42,50.84 L155.61,50.84 L155.80,50.83 L155.99,50.83 L156.18,50.82 L156.36,50.82 L156.55,50.81 L156.74,50.81 L156.93,50.81 L157.12,50.80 L157.30,50.80 L157.49,50.80 L157.68,50.80 L157.87,50.80 L158.06,50.80 L158.24,50.80 L158.43,50.80 L158.62,50.80 L158.81,50.80 L159.00,50.80 L159.93,50.80 L178.91,50.80 L197.89,50.80 L216.87,50.80 L235.86,50.80 L254.84,50.80 L273.82,50.80 L292.80,50.80 L311.78,50.80 L330.77,50.80 L330.81,50.43 L330.99,48.54 L331.18,46.02 L331.36,42.79 L331.54,38.63 L331.72,34.86 L331.90,33.26 L332.09,32.18 L332.27,31.39 L332.45,30.74 L332.63,30.18 L332.81,29.71 L333.00,29.30 L333.18,28.92 L333.36,28.54 L333.54,28.19 L333.73,27.85 L333.91,27.53 L334.09,27.26 L334.27,27.02 L334.45,26.83 L334.64,26.67 L334.82,26.51 L335.00,26.37 L335.18,26.24 L335.36,26.12 L335.55,26.01 L335.73,25.91 L335.91,25.82 L336.09,25.73 L336.27,25.66 L336.46,25.58 L336.64,25.50 L336.82,25.43 L337.00,25.37 L337.18,25.30 L337.37,25.25 L337.55,25.19 L337.73,25.15 L337.91,25.11 L338.10,25.07 L338.28,25.04 L338.46,25.02 L338.64,25.00 L338.82,24.98 L339.01,24.96 L339.19,24.94 L339.37,24.92 L339.55,24.90 L339.73,24.88 L339.92,24.87 L340.10,24.86 L340.28,24.85 L340.46,24.84 L340.64,24.83 L340.83,24.82 L341.01,24.81 L341.19,24.81 L341.37,24.81 L341.55,24.81 L341.74,24.80 L341.92,24.80 L342.10,24.80 L342.28,24.80 L342.46,24.80 L342.65,24.79 L342.83,24.79 L343.01,24.79 L343.19,24.79 L343.38,24.79 L343.56,24.79 L343.74,24.79 L343.92,24.79 L344.10,24.79 L344.29,24.79 L344.47,24.79 L344.65,24.78 L344.83,24.78 L345.01,24.78 L345.20,24.78 L346.13,24.78 L365.06,24.78 L383.99,24.78 L402.92,24.78 L421.85,24.78 L440.78,24.78 L459.71,24.78 L478.64,24.78 L497.57,24.78 L516.50,24.78" stroke="#c99c1c"/>
</g>
<rect x="125.70" y="4.60" width="316.30" height="13.60" fill="#fff" stroke="#6a6a6a" stroke-width="1"/>
<line x1="129.00" y1="11.50" x2="163.40" y2="11.50" stroke="#d04818" stroke-width="2.5"/>
<text x="166.00" y="15.70" style="font-size:10.9px">Psc</text>
<line x1="189.00" y1="11.50" x2="222.70" y2="11.50" stroke="#000000" stroke-width="2.5"/>
<text x="225.90" y="15.70" style="font-size:10.9px">Pload</text>
<line x1="260.00" y1="11.50" x2="294.00" y2="11.50" stroke="#66af85" stroke-width="2.5"/>
<text x="298.00" y="15.70" style="font-size:10.9px">Pfc</text>
<line x1="318.80" y1="11.50" x2="352.30" y2="11.50" stroke="#2f3c8a" stroke-width="2.5"/>
<text x="355.20" y="15.70" style="font-size:10.9px">Pbat</text>
<line x1="383.20" y1="11.50" x2="417.20" y2="11.50" stroke="#c99c1c" stroke-width="2.5"/>
<text x="420.40" y="15.70" style="font-size:10.9px">Ppv</text>
<text x="47.7" y="22.85" text-anchor="end" style="font-size:10.5px;letter-spacing:0.12px">3000</text>
<text x="47.7" y="45.20" text-anchor="end" style="font-size:10.5px;letter-spacing:0.12px">2500</text>
<text x="47.7" y="67.56" text-anchor="end" style="font-size:10.5px;letter-spacing:0.12px">2000</text>
<text x="47.7" y="89.91" text-anchor="end" style="font-size:10.5px;letter-spacing:0.12px">1500</text>
<text x="47.7" y="112.27" text-anchor="end" style="font-size:10.5px;letter-spacing:0.12px">1000</text>
<text x="47.7" y="134.62" text-anchor="end" style="font-size:10.5px;letter-spacing:0.12px">500</text>
<text x="47.7" y="156.98" text-anchor="end" style="font-size:10.5px;letter-spacing:0.12px">0</text>
<text x="47.7" y="179.33" text-anchor="end" style="font-size:10.5px;letter-spacing:0.12px">−500</text>
<text x="47.7" y="201.69" text-anchor="end" style="font-size:10.5px;letter-spacing:0.12px">−1000</text>
<text x="47.7" y="224.04" text-anchor="end" style="font-size:10.5px;letter-spacing:0.12px">−1500</text>
<text x="47.7" y="246.40" text-anchor="end" style="font-size:10.5px;letter-spacing:0.12px">−2000</text>
<text x="51.20" y="260.6" text-anchor="middle" style="font-size:10.5px">0</text>
<text x="144.30" y="260.6" text-anchor="middle" style="font-size:10.5px">1</text>
<text x="237.40" y="260.6" text-anchor="middle" style="font-size:10.5px">2</text>
<text x="330.50" y="260.6" text-anchor="middle" style="font-size:10.5px">3</text>
<text x="423.60" y="260.6" text-anchor="middle" style="font-size:10.5px">4</text>
<text x="516.70" y="260.6" text-anchor="middle" style="font-size:10.5px">5</text>
<text x="283.5" y="274.6" text-anchor="middle" style="font-size:11.05px">Time (sec)</text>
<text transform="translate(9.2,129.6) rotate(-90)" text-anchor="middle">Power (W)</text>
</svg>
</body></html>
